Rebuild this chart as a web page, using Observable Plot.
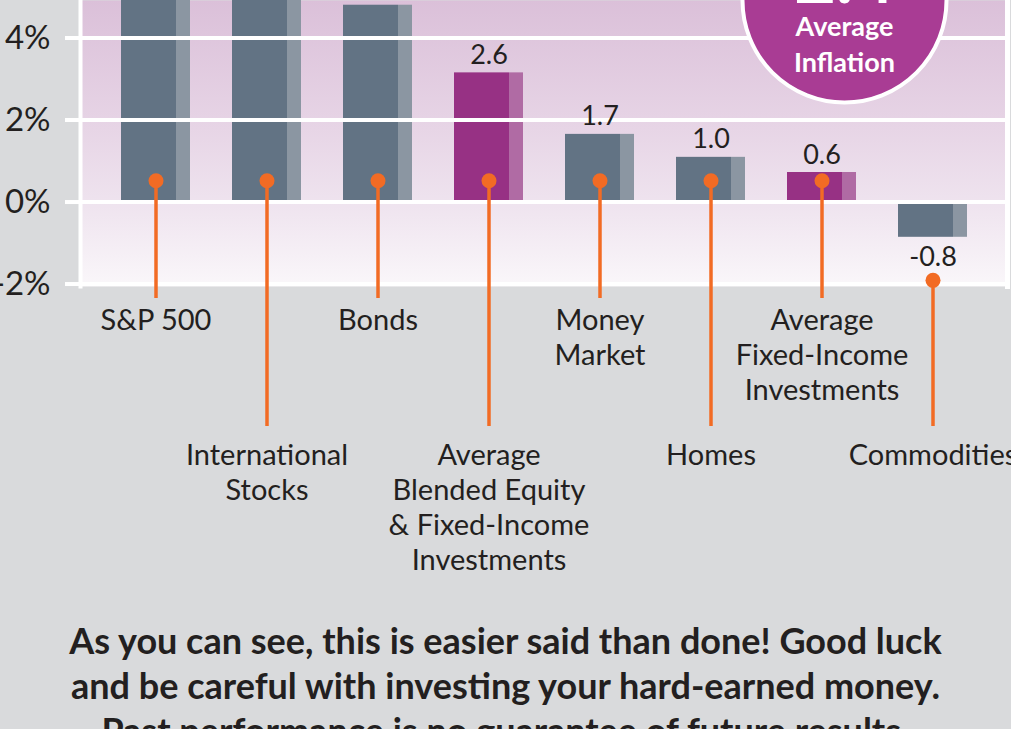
<!DOCTYPE html>
<html>
<head>
<meta charset="utf-8">
<script src="https://cdn.jsdelivr.net/npm/d3@7"></script>
<script src="https://cdn.jsdelivr.net/npm/@observablehq/plot@0.6"></script>
<style>
  html, body { margin: 0; padding: 0; background: #d9dadc; width: 1011px; height: 729px; overflow: hidden; }
  #wrap { position: relative; width: 1011px; height: 729px; }
  #chart svg { display: block; background: transparent; }
  #caption { position: absolute; left: 0; top: 618px; width: 1011px; text-align: center;
             font: 700 36px/45px Lato, sans-serif; color: #231f20; white-space: nowrap; }
</style>
</head>
<body>
<div id="wrap">
  <div id="chart"></div>
  <div id="caption"></div>
</div>
<script>
// ---- data ----
const categories = [
  "S&P 500",
  "International\nStocks",
  "Bonds",
  "Average\nBlended Equity\n& Fixed-Income\nInvestments",
  "Money\nMarket",
  "Homes",
  "Average\nFixed-Income\nInvestments",
  "Commodities"
];
// bar heights as drawn (the first two run off the top of the crop)
const barValues = [7.0, 6.2, 4.8, 3.15, 1.65, 1.09, 0.72, -0.86];
// printed value labels (first three are outside the visible crop)
const valueLabels = [null, null, null, "2.6", "1.7", "1.0", "0.6", "-0.8"];
const groups = ["asset", "asset", "asset", "average", "asset", "asset", "average", "asset"];
const yTicks = [-2, 0, 2, 4];
const inflationValue = ["2.4"];
const inflationLabel = ["Average\nInflation"];
const captionLines = [
  "As you can see, this is easier said than done! Good luck",
  "and be careful with investing your hard-earned money.",
  "Past performance is no guarantee of future results."
];

// ---- styling ----
const palette = {
  asset:   { dark: "#627384", light: "#8b96a2" },
  average: { dark: "#973184", light: "#b06ba4" }
};
const orange = "#f26b24";
const ink = "#231f20";
const font = "Lato, sans-serif";

const rows = categories.map((c, i) => ({
  category: c, value: barValues[i], label: valueLabels[i], group: groups[i], row: i % 2
}));
const anchorY = d => d.value >= 0 ? 0.52 : d.value - 1.05;
const yDomain = [-2.06, 4.915];

const gradient = () => {
  const defs = d3.create("svg:defs");
  const g = defs.append("linearGradient").attr("id", "plotBg")
    .attr("x1", 0).attr("y1", 0).attr("x2", 0).attr("y2", 1);
  g.append("stop").attr("offset", "0%").attr("stop-color", "#dbc0d9");
  g.append("stop").attr("offset", "45%").attr("stop-color", "#e7d5e6");
  g.append("stop").attr("offset", "72%").attr("stop-color", "#efe4ef");
  g.append("stop").attr("offset", "100%").attr("stop-color", "#faf7fa");
  return defs.node();
};

const chart = Plot.plot({
  width: 1011,
  height: 600,
  marginTop: 0,
  marginBottom: 314,
  marginLeft: 80,
  marginRight: 4,
  style: { background: "transparent", fontFamily: font, color: ink, overflow: "visible" },
  x: { domain: categories, paddingInner: 0.38, paddingOuter: 0.354, axis: null },
  y: { domain: yDomain, axis: null },
  marks: [
    gradient,
    Plot.frame({ fill: "url(#plotBg)", stroke: null }),
    Plot.barY(rows, { x: "category", y: "value", fill: d => palette[d.group].dark, insetRight: 14, clip: true }),
    Plot.barY(rows, { x: "category", y: "value", fill: d => palette[d.group].light, insetLeft: 55, clip: true }),
    Plot.ruleY(yTicks, { stroke: "white", strokeWidth: 4 }),
    Plot.frame({ anchor: "left", stroke: "white", strokeWidth: 4 }),
    Plot.frame({ anchor: "right", stroke: "white", strokeWidth: 5 }),
    Plot.axisY({
      ticks: yTicks, tickFormat: d => `${d}%`, tickSize: 15, tickPadding: 15,
      stroke: "white", strokeWidth: 4, fill: ink, fontSize: 33, label: null
    }),
    Plot.ruleX(rows.filter(d => d.row === 0), {
      x: "category", y1: anchorY, y2: () => yDomain[0], insetBottom: -12,
      stroke: orange, strokeWidth: 3.5
    }),
    Plot.ruleX(rows.filter(d => d.row === 1), {
      x: "category", y1: anchorY, y2: () => yDomain[0], insetBottom: -140,
      stroke: orange, strokeWidth: 3.5
    }),
    Plot.dot(rows, { x: "category", y: anchorY, r: 7.5, fill: orange, stroke: null }),
    Plot.text(rows.filter(d => d.label && d.value >= 0), {
      x: "category", y: "value", text: "label", lineAnchor: "bottom", dy: -9,
      fontSize: 27, fill: ink
    }),
    Plot.text(rows.filter(d => d.label && d.value < 0), {
      x: "category", y: "value", text: "label", lineAnchor: "top", dy: 10,
      fontSize: 27, fill: ink
    }),
    Plot.text(rows.filter(d => d.row === 0), {
      x: "category", text: "category", frameAnchor: "bottom", lineAnchor: "top",
      textAnchor: "middle", dy: 19, fontSize: 29, lineHeight: 35 / 29, fill: ink
    }),
    Plot.text(rows.filter(d => d.row === 1), {
      x: "category", text: "category", frameAnchor: "bottom", lineAnchor: "top",
      textAnchor: "middle", dy: 154, fontSize: 29, lineHeight: 35 / 29, fill: ink
    }),
    Plot.dot(inflationValue, {
      x: null, y: null, frameAnchor: "top-right", dx: -163, r: 102,
      fill: "#a93c94", stroke: "white", strokeWidth: 4
    }),
    Plot.text(inflationValue, {
      x: null, y: null, text: d => d, frameAnchor: "top-right", dx: -163, dy: 2,
      textAnchor: "middle", lineAnchor: "bottom", fontSize: 72, fontWeight: 700, fill: "white"
    }),
    Plot.text(inflationLabel, {
      x: null, y: null, text: d => d, frameAnchor: "top-right", dx: -163, dy: 10,
      textAnchor: "middle", lineAnchor: "top", fontSize: 27, fontWeight: 700,
      lineHeight: 36 / 27, fill: "white"
    })
  ]
});
document.getElementById("chart").append(chart);
document.getElementById("caption").innerHTML = captionLines.join("<br>");
</script>
</body>
</html>
